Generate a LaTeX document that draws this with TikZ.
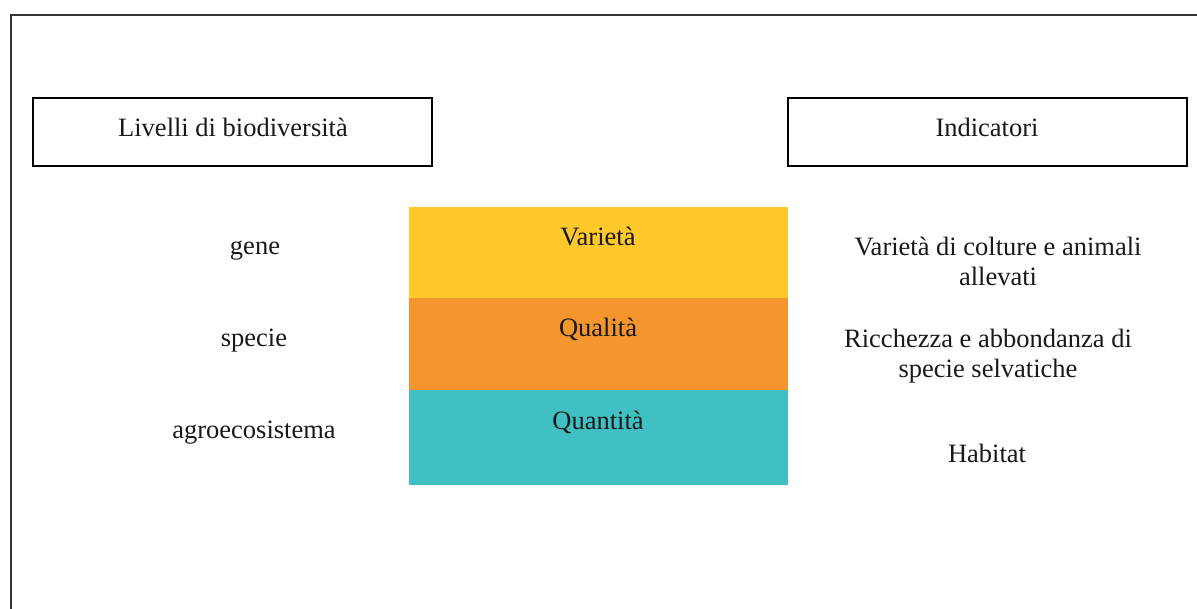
\documentclass[tikz,border=0pt]{standalone}
\usepackage{fontspec}
\setmainfont{Liberation Serif}
\definecolor{bandyellow}{HTML}{FFC92B}
\definecolor{bandorange}{HTML}{F5952E}
\definecolor{bandteal}{HTML}{41C0C4}
\definecolor{framegray}{HTML}{333333}
\tikzset{
  headbox/.style={draw=black, line width=1.8pt, minimum width=399pt, minimum height=68pt, inner sep=0pt},
  band/.style={minimum width=379pt, inner sep=0pt, outer sep=0pt},
  lbl/.style={anchor=base, inner sep=0pt, font=\fontsize{26.5}{30}\selectfont, text=black!90},
}
\begin{document}
\begin{tikzpicture}[x=1pt,y=-1pt]
\useasboundingbox (0,0) rectangle (1197,608);
\clip (0,0) rectangle (1197,608);
\coordinate (fb) at (11,620);
\coordinate (fc) at (11,15);
\coordinate (fr) at (1210,15);
\draw[framegray, line width=1.4pt] (fb) -- (fc) -- (fr);
% header boxes
\node[headbox] (left) at (232.5,132) {};
\node[headbox] (right) at (987.5,132) {};
\node[lbl] at (233,136) {Livelli di biodiversità};
\node[lbl] at (987,136) {Indicatori};
% bands
\node[band, fill=bandyellow, minimum height=92pt] (var) at (598.5,252.5) {};
\node[band, fill=bandorange, minimum height=92pt] (qual) at (598.5,344) {};
\node[band, fill=bandteal, minimum height=95pt] (quan) at (598.5,437) {};
\node[lbl] (tvar) at (598,245) {Varietà};
\node[lbl] (tqual) at (598,336) {Qualità};
\node[lbl] (tquan) at (598,429) {Quantità};
% left labels
\node[lbl] (gene) at (255,254) {gene};
\node[lbl] (specie) at (254,346) {specie};
\node[lbl] (agro) at (254,438) {agroecosistema};
% right labels
\node[lbl] (i1a) at (998,255) {Varietà di colture e animali};
\node[lbl] (i1b) at (998,285) {allevati};
\node[lbl] (i2a) at (988,347) {Ricchezza e abbondanza di};
\node[lbl] (i2b) at (988,377) {specie selvatiche};
\node[lbl] (i3) at (987,462) {Habitat};
\end{tikzpicture}
\end{document}
